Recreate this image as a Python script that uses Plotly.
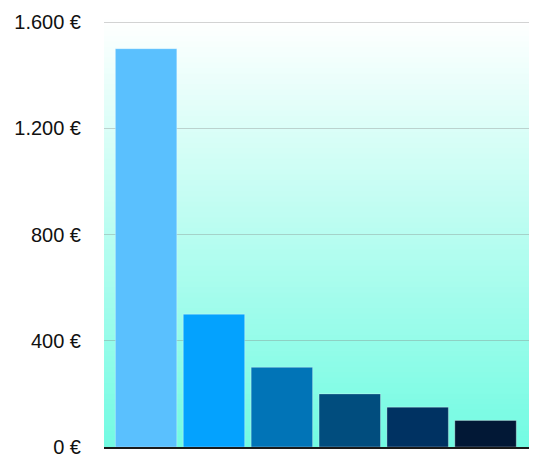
import plotly.graph_objects as go

# bar values (euros)
categories = ["A", "B", "C", "D", "E", "F"]
amounts = [1500, 500, 300, 200, 150, 100]
bar_colors = ["#5AC0FE", "#04A2FE", "#0174B7", "#014D7E", "#003262", "#021836"]

tick_values = [0, 400, 800, 1200, 1600]
tick_labels = ["0 €", "400 €", "800 €", "1.200 €", "1.600 €"]

fig = go.Figure()
fig.add_trace(go.Bar(
    x=categories,
    y=amounts,
    marker=dict(color=bar_colors, line=dict(color="rgba(255,255,255,0.3)", width=1)),
    hoverinfo="skip",
))

# vertical gradient for the plot background, white at top to aquamarine at bottom
top_rgb = (255, 255, 255)
bottom_rgb = (114, 251, 226)
n_bands = 80
shapes = []
for i in range(n_bands):
    t = (i + 0.5) / n_bands  # 0 at bottom, 1 at top
    r, g, b = [round(bottom_rgb[k] + (top_rgb[k] - bottom_rgb[k]) * t) for k in range(3)]
    shapes.append(dict(
        type="rect", xref="x domain", yref="y domain",
        x0=0, x1=1, y0=i / n_bands, y1=(i + 1) / n_bands + 0.002,
        fillcolor=f"rgb({r},{g},{b})", line=dict(width=0), layer="below",
    ))

# the page body has an 8px margin, so the figure is 8px smaller each way
fig.update_layout(
    width=544, height=458,
    margin=dict(l=95.7, r=22.5, t=11.6, b=19.3, autoexpand=False),
    paper_bgcolor="white",
    plot_bgcolor="white",
    bargap=0.095,
    showlegend=False,
    shapes=shapes,
    font=dict(family="Liberation Sans, Arial, sans-serif", size=20, color="#111111"),
    xaxis=dict(
        range=[-0.62, 5.64],
        showticklabels=False,
        showgrid=False,
        showline=True, linecolor="#1a1a1a", linewidth=2,
        ticks="", zeroline=False, automargin=False,
    ),
    yaxis=dict(
        # some headroom, plotly drops gridlines within 1px of the edge
        range=[0, 1608],
        tickvals=tick_values,
        ticktext=tick_labels,
        showgrid=True, gridcolor="rgba(128,128,128,0.35)", gridwidth=1.2,
        zeroline=False, automargin=False,
        ticks="outside", ticklen=18, tickcolor="rgba(0,0,0,0)",
    ),
)

fig.write_html("out.html")
